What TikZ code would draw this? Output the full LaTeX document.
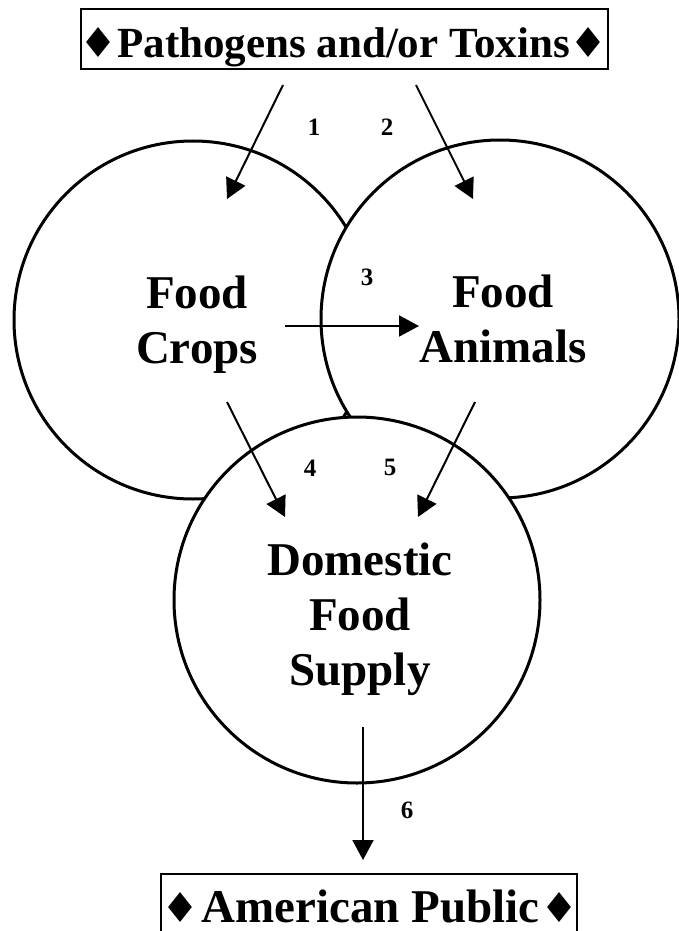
\documentclass[tikz,border=0pt]{standalone}
\usepackage{fontspec}
\usepackage{graphicx}
\setmainfont{Liberation Serif}
\newfontfamily\symfont{DejaVu Sans}
\newcommand\suitdia{\resizebox{38pt}{30pt}{\symfont ♦}}
\usetikzlibrary{arrows.meta}
\begin{document}
\begin{tikzpicture}[x=1pt,y=-1pt,
  circ/.style={circle, draw, line width=3pt, fill=white, minimum size=358pt, inner sep=0pt},
  lbl/.style={font=\bfseries\fontsize{47}{55}\selectfont, anchor=base, inner sep=0pt},
  num/.style={font=\bfseries\fontsize{25}{28}\selectfont, inner sep=0pt},
  arr/.style={line width=2pt, -{Triangle[length=20pt,width=21pt]}},
  box/.style={draw, line width=1.6pt, inner sep=0pt}
]
\useasboundingbox (0,0) rectangle (678,931);
% circles, back to front
\node[circ] (crops) at (193,320) {};
\node[circ] (animals) at (500,319) {};
\node[circ, minimum size=366pt] (supply) at (357,600) {};
% circle labels
\node[lbl] (cropsT) at (197,308) {\begin{tabular}[t]{@{}c@{}}Food\\Crops\end{tabular}};
\node[lbl] (animalsT) at (503,307) {\begin{tabular}[t]{@{}c@{}}Food\\Animals\end{tabular}};
\node[lbl] (supplyT) at (360,575) {\begin{tabular}[t]{@{}c@{}}Domestic\\Food\\Supply\end{tabular}};
% boxes
\node[box, minimum width=527pt, minimum height=60pt] (patho) at (344.5,39) {};
\node[font=\bfseries\fontsize{43}{50}\selectfont, anchor=base, inner sep=0pt] (pathoT) at (343.5,58) {\suitdia Pathogens and/or Toxins\suitdia};
\node[box, minimum width=416pt, minimum height=120pt, anchor=north] (public) at (369,873) {};
\node[font=\bfseries\fontsize{47}{56}\selectfont, anchor=base, inner sep=0pt] (publicT) at (370,922) {\suitdia\hspace{2pt}American Public\hspace{1pt}\suitdia};
% arrow end points
\coordinate (a1s) at (283,85);  \coordinate (a1e) at (227,199);
\coordinate (a2s) at (416,85);  \coordinate (a2e) at (473,199);
\coordinate (a3s) at (285,326); \coordinate (a3e) at (419,326);
\coordinate (a4s) at (227,402); \coordinate (a4e) at (285,517);
\coordinate (a5s) at (475,402); \coordinate (a5e) at (418,517);
\coordinate (a6s) at (363,727); \coordinate (a6e) at (363,860);
\draw[arr] (a1s) -- (a1e);
\draw[arr] (a2s) -- (a2e);
\draw[arr] (a3s) -- (a3e);
\draw[arr] (a4s) -- (a4e);
\draw[arr] (a5s) -- (a5e);
\draw[arr] (a6s) -- (a6e);
% numbers
\node[num] (n1) at (314,127) {1};
\node[num] (n2) at (387,127) {2};
\node[num] (n3) at (367,277) {3};
\node[num] (n4) at (310,468) {4};
\node[num] (n5) at (390,467) {5};
\node[num] (n6) at (407,810) {6};
\end{tikzpicture}
\end{document}
